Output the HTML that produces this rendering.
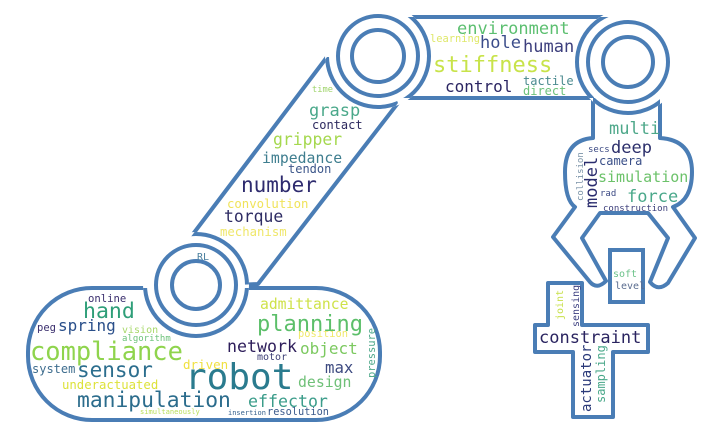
<!DOCTYPE html>
<html><head><meta charset="utf-8"><style>
html,body{margin:0;padding:0;background:#fff;}
svg{display:block;}
text{font-family:"DejaVu Sans Mono","Liberation Mono",monospace;}
</style></head><body>
<svg width="720" height="442" viewBox="0 0 720 442" xmlns="http://www.w3.org/2000/svg">
<defs>
<clipPath id="shapes">
<rect x="28" y="288" width="352" height="132" rx="64"/>
<polygon points="190,238 327,57 378,58 398,103 258,284 196,287"/>
<polygon points="400,17 612,17 594,98 396,98"/>
<path d="M593,98 L593,138 Q565,140 565,172 Q565,200 575,207 L553,237 L590,282 Q597,290 606,281 L582,238 L600,213 L648,213 L668,238 L650,282 Q658,292 668,283 L695,238 L673,207 Q692,200 692,172 Q692,140 660,138 L660,98 Z"/>
</clipPath>
</defs>
<g fill="#fff" stroke="#4a7db5" stroke-width="4" stroke-linejoin="round">
<rect x="28" y="288" width="352" height="132" rx="64"/>
<polygon points="190,238 327,57 378,58 398,103 258,284 196,287"/>
<polygon points="400,17 612,17 594,98 396,98"/>
<path d="M593,98 L593,138 Q565,140 565,172 Q565,200 575,207 L553,237 L590,282 Q597,290 606,281 L582,238 L600,213 L648,213 L668,238 L650,282 Q658,292 668,283 L695,238 L673,207 Q692,200 692,172 Q692,140 660,138 L660,98 Z"/>
</g>
<g fill="#fff">
<circle cx="196" cy="285" r="53"/>
<circle cx="378" cy="56" r="53"/>
<circle cx="628" cy="62" r="53"/>
</g>
<g clip-path="url(#shapes)" fill="none" stroke="#4a7db5" stroke-width="4">
<circle cx="196" cy="285" r="51"/>
<circle cx="378" cy="56" r="51"/>
<circle cx="628" cy="62" r="51"/>
</g>
<g fill="none" stroke="#4a7db5" stroke-width="4">
<circle cx="196" cy="285" r="40"/>
<circle cx="196" cy="285" r="24"/>
<circle cx="378" cy="56" r="40"/>
<circle cx="378" cy="56" r="26"/>
<circle cx="628" cy="62" r="40"/>
<circle cx="628" cy="62" r="25"/>
</g>
<rect x="610" y="250" width="33" height="52" fill="#fff" stroke="#4a7db5" stroke-width="4"/>
<polygon points="548,283 582,283 582,325 648,325 648,352 613,352 613,417 573,417 573,352 535,352 535,325 548,325" fill="#fff" stroke="#4a7db5" stroke-width="4" stroke-linejoin="round"/>

<!-- base words -->
<text x="88" y="302" font-size="10.6" fill="#3b2f6e">online</text>
<text x="83" y="318" font-size="21.5" fill="#2e9e78">hand</text>
<text x="37" y="331" font-size="10.5" fill="#3b2f6e">peg</text>
<text x="58" y="331" font-size="16" fill="#2a4f8a">spring</text>
<text x="122" y="333" font-size="10" fill="#a8d86a">vision</text>
<text x="122" y="341" font-size="9" fill="#6cc27a">algorithm</text>
<text x="30" y="360" font-size="25.4" fill="#8fd44d">compliance</text>
<text x="32" y="373" font-size="12" fill="#3e6d8e">system</text>
<text x="77" y="377" font-size="21" fill="#2c6e8e">sensor</text>
<text x="62" y="389" font-size="12.3" fill="#dde23a">underactuated</text>
<text x="77" y="407" font-size="21.3" fill="#2b6c8c">manipulation</text>
<text x="140" y="414" font-size="7.1" fill="#b8de5a">simultaneously</text>
<text x="228" y="415" font-size="7" fill="#35608d">insertion</text>
<text x="267" y="415" font-size="10.3" fill="#3b5a8c">resolution</text>
<text x="248" y="407" font-size="16.6" fill="#3b9c8a">effector</text>
<text x="185" y="389" font-size="36" fill="#2a7b8e">robot</text>
<text x="183" y="369" font-size="12.5" fill="#f0e040">driven</text>
<text x="257" y="360" font-size="10" fill="#3d3f75">motor</text>
<text x="227" y="352" font-size="16.6" fill="#2d1d5a">network</text>
<text x="300" y="354" font-size="16" fill="#7cc960">object</text>
<text x="298" y="337" font-size="10.4" fill="#f0e86a">position</text>
<text transform="translate(375,378) rotate(-90)" font-size="10.4" fill="#4ea88a">pressure</text>
<text x="325" y="373" font-size="15.7" fill="#3d4a80">max</text>
<text x="298" y="387" font-size="14.8" fill="#6fc078">design</text>
<text x="257" y="331" font-size="22" fill="#5cbf6a">planning</text>
<text x="260" y="309" font-size="14.7" fill="#cfe24a">admittance</text>
<text x="197" y="260" font-size="10" fill="#4a7f9e">RL</text>

<!-- arm words -->
<text x="312" y="92" font-size="8.7" fill="#9fd46a">time</text>
<text x="309" y="116" font-size="17" fill="#4aa88a">grasp</text>
<text x="312" y="129" font-size="12" fill="#2d2a5f">contact</text>
<text x="273" y="145" font-size="16.4" fill="#a5d84e">gripper</text>
<text x="262" y="163" font-size="14.8" fill="#3f7e8f">impedance</text>
<text x="288" y="173" font-size="12" fill="#3c568a">tendon</text>
<text x="241" y="192" font-size="21" fill="#2e2b6e">number</text>
<text x="227" y="208" font-size="12.3" fill="#f0e35a">convolution</text>
<text x="224" y="222" font-size="16.4" fill="#2e2c64">torque</text>
<text x="220" y="236" font-size="12.3" fill="#efe76a">mechanism</text>

<!-- top link -->
<text x="457" y="34" font-size="17" fill="#5cbf70">environment</text>
<text x="430" y="42" font-size="10.4" fill="#dfe86a">learning</text>
<text x="480" y="48" font-size="17" fill="#3b4c8a">hole</text>
<text x="523" y="52" font-size="17" fill="#3d3f7d">human</text>
<text x="433" y="72" font-size="22" fill="#c8e34a">stiffness</text>
<text x="445" y="92" font-size="16" fill="#2b2562">control</text>
<text x="523" y="85" font-size="12" fill="#4a8a8f">tactile</text>
<text x="523" y="95" font-size="12" fill="#6cc27a">direct</text>

<!-- gripper -->
<text x="609" y="134" font-size="17" fill="#4ea88a">multi</text>
<text x="588" y="152" font-size="9" fill="#3c4a84">secs</text>
<text x="611" y="153" font-size="17" fill="#2c2f6b">deep</text>
<text x="599" y="165" font-size="12" fill="#3a4f88">camera</text>
<text x="598" y="182" font-size="15" fill="#6cc26a">simulation</text>
<text transform="translate(583,201) rotate(-90)" font-size="9" fill="#7a93a8">collision</text>
<text transform="translate(597,208) rotate(-90)" font-size="17" fill="#2a2c6e">model</text>
<text x="600" y="196" font-size="9" fill="#3c4a84">rad</text>
<text x="627" y="202" font-size="17" fill="#4aa88a">force</text>
<text x="603" y="211" font-size="9" fill="#3b3d7a">construction</text>
<text x="613" y="277" font-size="10" fill="#6cc28a">soft</text>
<text x="615" y="289" font-size="10" fill="#5a6c8f">level</text>

<!-- cross -->
<text transform="translate(563,320) rotate(-90)" font-size="10" fill="#c8e04a">joint</text>
<text transform="translate(579,327) rotate(-90)" font-size="10" fill="#3c3f80">sensing</text>
<text x="539" y="343" font-size="17" fill="#2a2460">constraint</text>
<text transform="translate(591,412) rotate(-90)" font-size="14" fill="#2c3b7a">actuator</text>
<text transform="translate(605,403) rotate(-90)" font-size="12" fill="#4aa88a">sampling</text>
</svg>
</body></html>
